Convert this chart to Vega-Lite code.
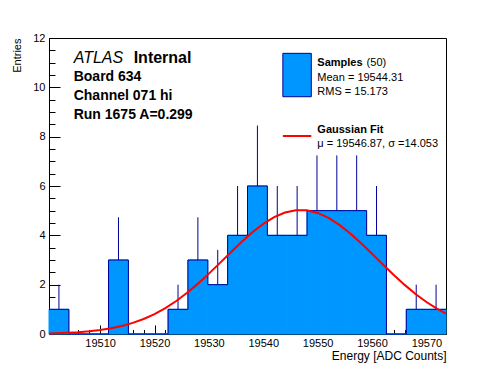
{
  "$schema": "https://vega.github.io/schema/vega-lite/v6.json",
  "autosize": {"type": "none"},
  "width": 397,
  "height": 296,
  "padding": {"left": 49, "top": 38, "right": 50, "bottom": 38},
  "background": "white",
  "datasets": {
    "bins": [
      {"i": 0, "lo": 19500.6, "hi": 19504.25, "c": 19502.425, "n": 1, "up": 2},
      {"i": 1, "lo": 19504.25, "hi": 19507.9, "c": 19506.075, "n": 0, "up": 0},
      {"i": 2, "lo": 19507.9, "hi": 19511.55, "c": 19509.725, "n": 0, "up": 0},
      {"i": 3, "lo": 19511.55, "hi": 19515.2, "c": 19513.375, "n": 3, "up": 4.73},
      {"i": 4, "lo": 19515.2, "hi": 19518.85, "c": 19517.025, "n": 0, "up": 0},
      {"i": 5, "lo": 19518.85, "hi": 19522.5, "c": 19520.675, "n": 0, "up": 0},
      {"i": 6, "lo": 19522.5, "hi": 19526.15, "c": 19524.325, "n": 1, "up": 2},
      {"i": 7, "lo": 19526.15, "hi": 19529.8, "c": 19527.975, "n": 3, "up": 4.73},
      {"i": 8, "lo": 19529.8, "hi": 19533.45, "c": 19531.625, "n": 2, "up": 3.41},
      {"i": 9, "lo": 19533.45, "hi": 19537.1, "c": 19535.275, "n": 4, "up": 6},
      {"i": 10, "lo": 19537.1, "hi": 19540.75, "c": 19538.925, "n": 6, "up": 8.45},
      {"i": 11, "lo": 19540.75, "hi": 19544.4, "c": 19542.575, "n": 4, "up": 6},
      {"i": 12, "lo": 19544.4, "hi": 19548.05, "c": 19546.225, "n": 4, "up": 6},
      {"i": 13, "lo": 19548.05, "hi": 19551.7, "c": 19549.875, "n": 5, "up": 7.24},
      {"i": 14, "lo": 19551.7, "hi": 19555.35, "c": 19553.525, "n": 5, "up": 7.24},
      {"i": 15, "lo": 19555.35, "hi": 19559.0, "c": 19557.175, "n": 5, "up": 7.24},
      {"i": 16, "lo": 19559.0, "hi": 19562.65, "c": 19560.825, "n": 4, "up": 6},
      {"i": 17, "lo": 19562.65, "hi": 19566.3, "c": 19564.475, "n": 0, "up": 0},
      {"i": 18, "lo": 19566.3, "hi": 19569.95, "c": 19568.125, "n": 1, "up": 2},
      {"i": 19, "lo": 19569.95, "hi": 19573.6, "c": 19571.775, "n": 1, "up": 2}
    ],
    "fit": [
      {"e": 19500.6, "f": 0.0223}, {"e": 19502, "f": 0.0308}, {"e": 19504, "f": 0.0479},
      {"e": 19506, "f": 0.0733}, {"e": 19508, "f": 0.1097}, {"e": 19510, "f": 0.161},
      {"e": 19512, "f": 0.2316}, {"e": 19514, "f": 0.3264}, {"e": 19516, "f": 0.4505},
      {"e": 19518, "f": 0.6097}, {"e": 19520, "f": 0.8083}, {"e": 19522, "f": 1.0508},
      {"e": 19524, "f": 1.338}, {"e": 19526, "f": 1.67}, {"e": 19528, "f": 2.042},
      {"e": 19530, "f": 2.447}, {"e": 19532, "f": 2.874}, {"e": 19534, "f": 3.307},
      {"e": 19536, "f": 3.729}, {"e": 19538, "f": 4.122}, {"e": 19540, "f": 4.464},
      {"e": 19542, "f": 4.737}, {"e": 19544, "f": 4.926}, {"e": 19546, "f": 5.02},
      {"e": 19548, "f": 5.014}, {"e": 19550, "f": 4.907}, {"e": 19552, "f": 4.706},
      {"e": 19554, "f": 4.422}, {"e": 19556, "f": 4.073}, {"e": 19558, "f": 3.676},
      {"e": 19560, "f": 3.251}, {"e": 19562, "f": 2.817}, {"e": 19564, "f": 2.393},
      {"e": 19566, "f": 1.991}, {"e": 19568, "f": 1.624}, {"e": 19570, "f": 1.298},
      {"e": 19572, "f": 1.017}, {"e": 19573.6, "f": 0.8244}
    ]
  },
  "config": {
    "view": {"stroke": "black", "strokeWidth": 1},
    "axis": {
      "domainColor": "black", "tickColor": "black", "labelColor": "black", "titleColor": "black",
      "labelFont": "Liberation Sans", "titleFont": "Liberation Sans",
      "labelFontSize": 11, "titleFontSize": 11, "titleFontWeight": "normal", "grid": false,
      "tickWidth": 1, "domainWidth": 1, "labelOverlap": false, "labelFlush": false
    },
    "text": {"font": "Liberation Sans", "color": "black"}
  },
  "resolve": {"axis": {"x": "independent", "y": "independent"}},
  "layer": [
    {
      "data": {"name": "bins"},
      "mark": {"type": "rect", "fill": "#0096ff", "stroke": "#0096ff", "strokeWidth": 1},
      "encoding": {
        "x": {"field": "lo", "type": "quantitative", "scale": {"domain": [19500.6, 19573.6], "nice": false, "zero": false},
          "axis": {
            "orient": "bottom",
            "title": "Energy [ADC Counts]", "titleAnchor": "end", "titleFontSize": 12, "titlePadding": 2,
            "format": "d", "values": [19510, 19520, 19530, 19540, 19550, 19560, 19570],
            "ticks": false, "labelPadding": 3
          }},
        "x2": {"field": "hi"},
        "y": {"field": "n", "type": "quantitative", "scale": {"domain": [0, 12], "nice": false},
          "axis": {
            "orient": "left",
            "title": "Entries", "titleAnchor": "end", "titlePadding": 10,
            "values": [0, 2, 4, 6, 8, 10, 12], "ticks": false, "labelPadding": 4
          }},
        "y2": {"datum": 0}
      }
    },
    {
      "data": {"name": "bins"},
      "transform": [{"fold": ["lo", "hi"], "as": ["edge", "xv"]}],
      "mark": {"type": "line", "color": "#000099", "strokeWidth": 1, "interpolate": "linear"},
      "encoding": {
        "x": {"field": "xv", "type": "quantitative", "scale": {"domain": [19500.6, 19573.6], "nice": false, "zero": false},
          "axis": {"orient": "bottom", "title": null, "labels": false, "domain": false,
            "values": [19510, 19520, 19530, 19540, 19550, 19560, 19570], "tickSize": -9}},
        "y": {"field": "n", "type": "quantitative", "scale": {"domain": [0, 12], "nice": false},
          "axis": {"orient": "left", "title": null, "labels": false, "domain": false,
            "values": [0, 2, 4, 6, 8, 10, 12], "tickSize": -11}},
        "order": [{"field": "i", "type": "quantitative"}, {"field": "edge", "sort": "descending"}]
      }
    },
    {
      "data": {"name": "bins"},
      "transform": [{"filter": "datum.n > 0"}],
      "mark": {"type": "rule", "color": "#000099", "strokeWidth": 1},
      "encoding": {
        "x": {"field": "c", "type": "quantitative", "scale": {"domain": [19500.6, 19573.6], "nice": false, "zero": false},
          "axis": {"orient": "bottom", "title": null, "labels": false, "domain": false,
            "values": [19502,19504,19506,19508,19512,19514,19516,19518,19522,19524,19526,19528,19532,19534,19536,19538,19542,19544,19546,19548,19552,19554,19556,19558,19562,19564,19566,19568,19572],
            "tickSize": -4.5}},
        "y": {"field": "n", "type": "quantitative", "scale": {"domain": [0, 12], "nice": false},
          "axis": {"orient": "left", "title": null, "labels": false, "domain": false,
            "values": [0.5,1,1.5,2.5,3,3.5,4.5,5,5.5,6.5,7,7.5,8.5,9,9.5,10.5,11,11.5],
            "tickSize": -6}},
        "y2": {"field": "up"}
      }
    },
    {
      "data": {"name": "fit"},
      "mark": {"type": "line", "color": "#ff0000", "strokeWidth": 2},
      "encoding": {
        "x": {"field": "e", "type": "quantitative", "scale": {"domain": [19500.6, 19573.6], "nice": false, "zero": false}, "axis": null},
        "y": {"field": "f", "type": "quantitative", "scale": {"domain": [0, 12], "nice": false}, "axis": null}
      }
    },
    {
      "data": {"values": [{"t": "ATLAS"}]},
      "mark": {"type": "text", "fontStyle": "italic", "fontSize": 16, "align": "left", "baseline": "alphabetic"},
      "encoding": {"x": {"datum": 19505.14, "axis": null}, "y": {"datum": 10.98, "axis": null}, "text": {"field": "t"}}
    },
    {
      "data": {"values": [{"t": "Internal"}]},
      "mark": {"type": "text", "fontWeight": "bold", "fontSize": 16, "align": "left", "baseline": "alphabetic"},
      "encoding": {"x": {"datum": 19516.17, "axis": null}, "y": {"datum": 10.98, "axis": null}, "text": {"field": "t"}}
    },
    {
      "data": {"values": [{"t": ["Board 634", "Channel 071 hi", "Run 1675 A=0.299"]}]},
      "mark": {"type": "text", "fontWeight": "bold", "fontSize": 14, "align": "left", "baseline": "alphabetic", "lineHeight": 19},
      "encoding": {"x": {"datum": 19505.14, "axis": null}, "y": {"datum": 10.255, "axis": null}, "text": {"field": "t"}}
    },
    {
      "data": {"values": [{"t": "Samples"}]},
      "mark": {"type": "rect", "fill": "#0096ff", "stroke": "#000099", "strokeWidth": 1},
      "encoding": {"x": {"datum": 19543.6, "axis": null}, "x2": {"datum": 19548.83}, "y": {"datum": 11.378, "axis": null}, "y2": {"datum": 9.619}}
    },
    {
      "data": {"values": [{"t": "Gaussian Fit"}]},
      "mark": {"type": "rule", "color": "#ff0000", "strokeWidth": 2},
      "encoding": {"x": {"datum": 19543.6, "axis": null}, "x2": {"datum": 19548.83}, "y": {"datum": 8.026, "axis": null}}
    },
    {
      "data": {"values": [{"t": "Samples"}]},
      "mark": {"type": "text", "fontWeight": "bold", "fontSize": 11, "align": "left", "baseline": "alphabetic"},
      "encoding": {"x": {"datum": 19549.94, "axis": null}, "y": {"datum": 10.87, "axis": null}, "text": {"field": "t"}}
    },
    {
      "data": {"values": [{"t": "(50)"}]},
      "mark": {"type": "text", "fontSize": 11, "align": "left", "baseline": "alphabetic"},
      "encoding": {"x": {"datum": 19559.0, "axis": null}, "y": {"datum": 10.87, "axis": null}, "text": {"field": "t"}}
    },
    {
      "data": {"values": [{"t": ["Mean = 19544.31", "RMS = 15.173"]}]},
      "mark": {"type": "text", "fontSize": 11, "align": "left", "baseline": "alphabetic", "lineHeight": 14.5},
      "encoding": {"x": {"datum": 19549.94, "axis": null}, "y": {"datum": 10.26, "axis": null}, "text": {"field": "t"}}
    },
    {
      "data": {"values": [{"t": "Gaussian Fit"}]},
      "mark": {"type": "text", "fontWeight": "bold", "fontSize": 11, "align": "left", "baseline": "alphabetic"},
      "encoding": {"x": {"datum": 19549.94, "axis": null}, "y": {"datum": 8.13, "axis": null}, "text": {"field": "t"}}
    },
    {
      "data": {"values": [{"t": "μ = 19546.87, σ =14.053"}]},
      "mark": {"type": "text", "fontSize": 11, "align": "left", "baseline": "alphabetic"},
      "encoding": {"x": {"datum": 19549.94, "axis": null}, "y": {"datum": 7.6, "axis": null}, "text": {"field": "t"}}
    }
  ]
}
